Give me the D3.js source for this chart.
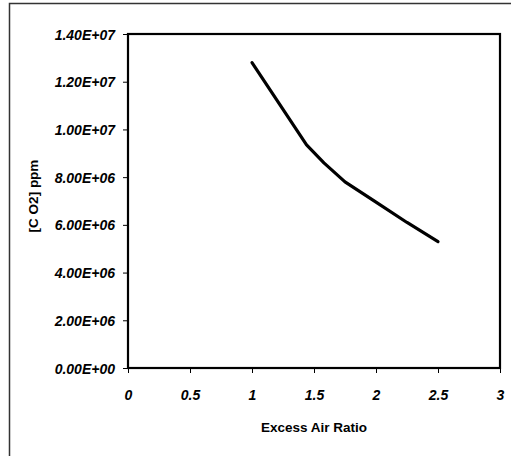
<!DOCTYPE html>
<html>
<head>
<meta charset="utf-8">
<script src="https://cdn.jsdelivr.net/npm/d3@7"></script>
<style>
  html, body { margin: 0; padding: 0; background: #fff; }
  svg { display: block; }
  text { font-family: "Liberation Sans", Arial, sans-serif; fill: #000; }
</style>
</head>
<body>
<div id="chart"></div>
<script>
// ---- data ----
const excessAirRatio = [1.0, 1.44, 1.58, 1.75, 2.0, 2.25, 2.5];
const co2ppm = [1.28e7, 9.35e6, 8.6e6, 7.8e6, 6.95e6, 6.1e6, 5.3e6];
const xTicks = [0, 0.5, 1, 1.5, 2, 2.5, 3];
const xTickLabels = ["0", "0.5", "1", "1.5", "2", "2.5", "3"];
const yTicks = [0, 2e6, 4e6, 6e6, 8e6, 1e7, 1.2e7, 1.4e7];
const yTickLabels = ["0.00E+00", "2.00E+06", "4.00E+06", "6.00E+06", "8.00E+06", "1.00E+07", "1.20E+07", "1.40E+07"];
const xTitle = "Excess Air Ratio";
const yTitle = "[C O2] ppm";

// ---- layout ----
const W = 511, H = 456;
const plot = { left: 128, right: 500, top: 34, bottom: 368 };

const svg = d3.select("#chart").append("svg")
  .attr("width", W).attr("height", H);

// outer chart-area frame
svg.append("rect")
  .attr("x", 9.5).attr("y", 3.5)
  .attr("width", 520).attr("height", 480)
  .attr("fill", "none").attr("stroke", "#333").attr("stroke-width", 1.5);

const x = d3.scaleLinear().domain([0, 3]).range([plot.left, plot.right]);
const y = d3.scaleLinear().domain([0, 1.4e7]).range([plot.bottom, plot.top]);

// axes (ticks)
const xAxis = d3.axisBottom(x).tickValues(xTicks).tickSize(5).tickSizeOuter(0)
  .tickFormat((d, i) => xTickLabels[i]);
const yAxis = d3.axisLeft(y).tickValues(yTicks).tickSize(5).tickSizeOuter(0)
  .tickFormat((d, i) => yTickLabels[i]);

const gx = svg.append("g").attr("transform", `translate(0,${plot.bottom})`).call(xAxis);
const gy = svg.append("g").attr("transform", `translate(${plot.left},0)`).call(yAxis);

[gx, gy].forEach(g => {
  g.select(".domain").remove();
  g.selectAll(".tick line").attr("stroke", "#000").attr("stroke-width", 1);
  g.selectAll(".tick text")
    .style("font-family", "'Liberation Sans', Arial, sans-serif")
    .style("font-size", "14px")
    .style("font-weight", "bold")
    .style("font-style", "italic")
    .attr("fill", "#000");
});
gx.selectAll(".tick text").attr("y", 0).attr("dy", 0)
  .attr("transform", "translate(0,32)");
gy.selectAll(".tick text").attr("x", -13).attr("dy", "0.36em");

// plot frame
svg.append("rect")
  .attr("x", plot.left).attr("y", plot.top)
  .attr("width", plot.right - plot.left).attr("height", plot.bottom - plot.top)
  .attr("fill", "none").attr("stroke", "#000").attr("stroke-width", 2.2);

// data line
const data = excessAirRatio.map((d, i) => ({ x: d, y: co2ppm[i] }));
svg.append("path")
  .datum(data)
  .attr("fill", "none").attr("stroke", "#000").attr("stroke-width", 3.2)
  .attr("stroke-linejoin", "round").attr("stroke-linecap", "round")
  .attr("d", d3.line().x(d => x(d.x)).y(d => y(d.y)));

// titles
svg.append("text")
  .attr("x", (plot.left + plot.right) / 2).attr("y", 432)
  .attr("text-anchor", "middle")
  .style("font-size", "13.5px").style("font-weight", "bold")
  .text(xTitle);

svg.append("text")
  .attr("transform", `translate(38,${(plot.top + plot.bottom) / 2 - 5}) rotate(-90)`)
  .attr("text-anchor", "middle")
  .style("font-size", "13.5px").style("font-weight", "bold")
  .text(yTitle);
</script>
</body>
</html>
